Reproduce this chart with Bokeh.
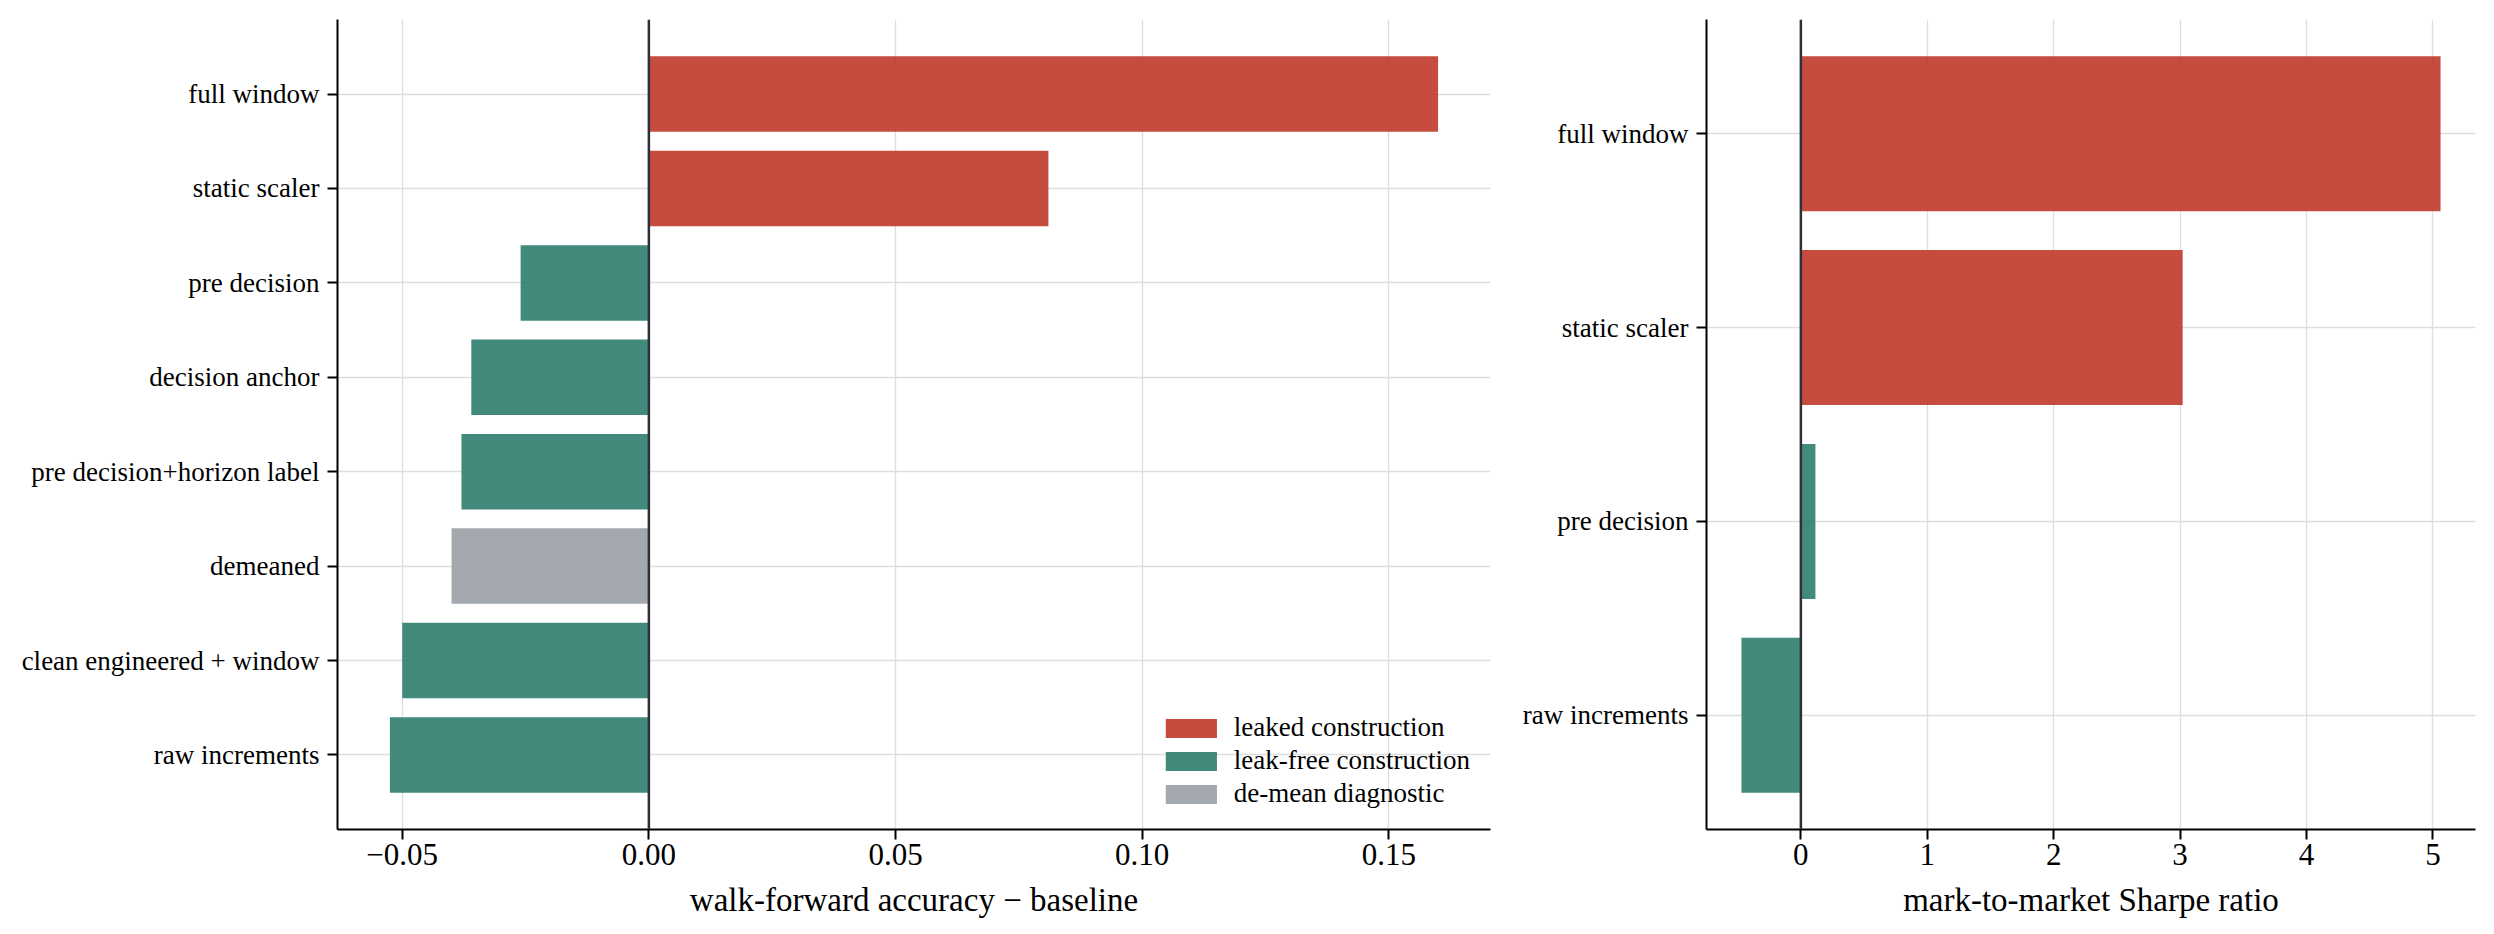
from bokeh.plotting import figure
from bokeh.models import Range1d, FixedTicker, Span, Legend, LegendItem, ColumnDataSource
from bokeh.layouts import row
from bokeh.embed import file_html
from bokeh.resources import INLINE

# ---- data ----
acc_categories = ["full window", "static scaler", "pre decision", "decision anchor",
                  "pre decision+horizon label", "demeaned", "clean engineered + window",
                  "raw increments"]
acc_values = [0.160, 0.081, -0.026, -0.036, -0.038, -0.040, -0.050, -0.0525]
acc_kinds = ["leaked", "leaked", "leakfree", "leakfree", "leakfree", "demean",
             "leakfree", "leakfree"]

sharpe_categories = ["full window", "static scaler", "pre decision", "raw increments"]
sharpe_values = [5.06, 3.02, 0.115, -0.47]
sharpe_kinds = ["leaked", "leaked", "leakfree", "leakfree"]

kind_names = ["leaked", "leakfree", "demean"]
kind_labels = ["leaked construction", "leak-free construction", "de-mean diagnostic"]
kind_colors = ["#C0392B", "#2E7D6E", "#9AA0A6"]

acc_ticks = [-0.05, 0.0, 0.05, 0.10, 0.15]
acc_tick_labels = ["\u22120.05", "0.00", "0.05", "0.10", "0.15"]
sharpe_ticks = [0, 1, 2, 3, 4, 5]
sharpe_tick_labels = ["0", "1", "2", "3", "4", "5"]

acc_xlabel = "walk-forward accuracy \u2212 baseline"
sharpe_xlabel = "mark-to-market Sharpe ratio"

FONT = "Liberation Serif"


def make_panel(cats, vals, kinds, ticks, tick_labels, xlabel, frame_w,
               border_left, border_right, with_legend=False):
    n = len(cats)
    ypos = [n - 1 - i for i in range(n)]
    lo = min(min(vals), 0.0)
    hi = max(max(vals), 0.0)
    pad = 0.05 * (hi - lo)
    ypad = 0.05 * (n - 1 + 0.8)
    p = figure(frame_width=frame_w, frame_height=810,
               x_range=Range1d(lo - pad, hi + pad),
               y_range=Range1d(-0.4 - ypad, n - 1 + 0.4 + ypad),
               output_backend="svg", toolbar_location=None,
               min_border_left=border_left, min_border_right=border_right,
               min_border_top=19, min_border_bottom=60)
    p.outline_line_color = None
    p.background_fill_color = "white"

    # grid
    p.xgrid.ticker = FixedTicker(ticks=ticks)
    p.ygrid.ticker = FixedTicker(ticks=ypos)
    for g in (p.xgrid, p.ygrid):
        g.grid_line_color = "#dedede"
        g.grid_line_width = 1.3

    # axes
    p.xaxis.ticker = FixedTicker(ticks=ticks)
    p.xaxis.major_label_overrides = {t: l for t, l in zip(ticks, tick_labels)}
    p.yaxis.ticker = FixedTicker(ticks=ypos)
    p.yaxis.major_label_overrides = {y: c for y, c in zip(ypos, cats)}
    for ax in (p.xaxis, p.yaxis):
        ax.axis_line_color = "black"
        ax.axis_line_width = 2
        ax.major_tick_line_color = "black"
        ax.major_tick_line_width = 2
        ax.major_tick_in = 0
        ax.major_tick_out = 10
        ax.minor_tick_line_color = None
        ax.major_label_text_font = FONT
        ax.major_label_text_color = "black"
    p.xaxis.major_label_text_font_size = "31px"
    p.xaxis.major_label_standoff = 4
    p.yaxis.major_label_text_font_size = "27px"
    p.yaxis.major_label_standoff = 8
    p.xaxis.axis_label = xlabel
    p.xaxis.axis_label_text_font = FONT
    p.xaxis.axis_label_text_font_size = "33px"
    p.xaxis.axis_label_text_font_style = "normal"
    p.xaxis.axis_label_text_color = "black"
    p.xaxis.axis_label_standoff = 14

    # bars by kind
    legend_items = []
    for name, label, color in zip(kind_names, kind_labels, kind_colors):
        idx = [i for i, k in enumerate(kinds) if k == name]
        if not idx:
            continue
        src = ColumnDataSource(dict(y=[ypos[i] for i in idx], v=[vals[i] for i in idx]))
        r = p.hbar(y="y", left=0, right="v", height=0.8, source=src,
                   fill_color=color, fill_alpha=0.9, line_color=None)
        legend_items.append(LegendItem(label=label, renderers=[r]))

    p.add_layout(Span(location=0, dimension="height", line_color="#2d3039",
                      line_width=2.5))

    if with_legend:
        leg = Legend(items=legend_items, location="bottom_right",
                     border_line_color=None, background_fill_alpha=0,
                     label_text_font=FONT, label_text_font_size="27px",
                     label_text_color="black",
                     glyph_width=64, glyph_height=24, label_standoff=11,
                     spacing=2, padding=8, margin=20)
        p.add_layout(leg)
    return p


p1 = make_panel(acc_categories, acc_values, acc_kinds, acc_ticks, acc_tick_labels,
                acc_xlabel, 1153, 337, 16, with_legend=True)
p2 = make_panel(sharpe_categories, sharpe_values, sharpe_kinds, sharpe_ticks,
                sharpe_tick_labels, sharpe_xlabel, 769, 200, 3)

layout = row(p1, p2)
open("out.html", "w").write(file_html(layout, INLINE))
